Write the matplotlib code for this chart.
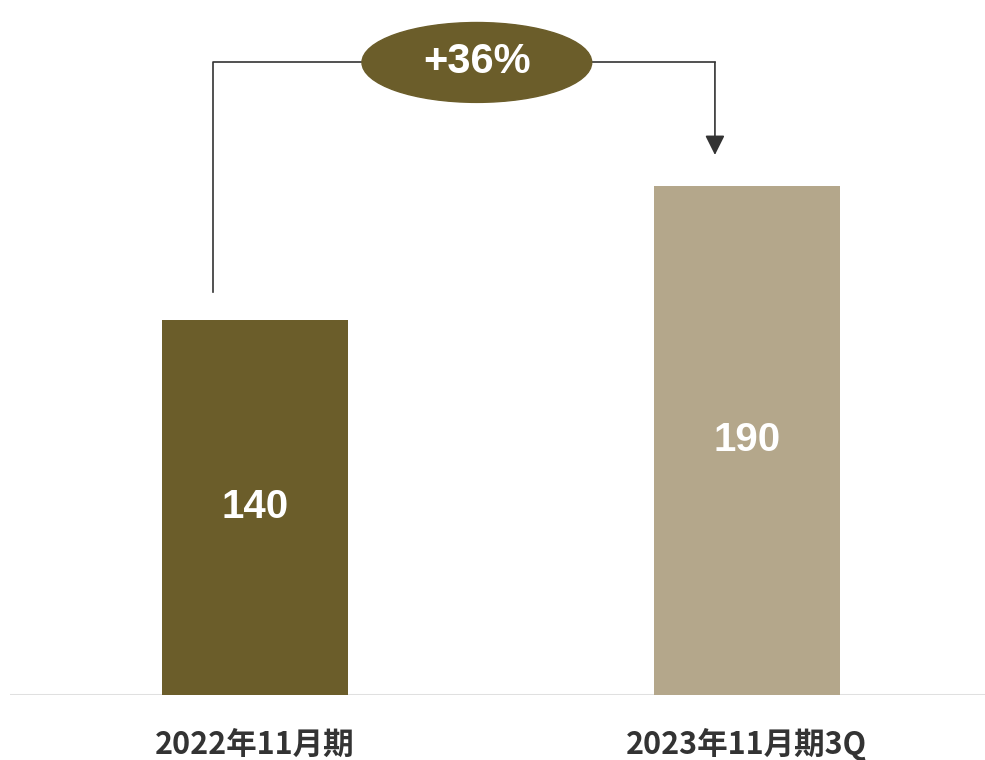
import matplotlib
matplotlib.use("Agg")
import matplotlib.pyplot as plt
from matplotlib.patches import Ellipse

# chart data
categories = ["2022年11月期", "2023年11月期3Q"]
values = [140, 190]
colors = ["#6b5d2a", "#b4a78b"]
growth_label = "+36%"

plt.rcParams['font.family'] = ['Noto Sans CJK JP', 'DejaVu Sans']

fig = plt.figure(figsize=(9.85, 7.6), dpi=100)
# axes spans the baseline from x=10px to right edge, bottom at y=695px
ax = fig.add_axes([10 / 985, 65 / 760, 975 / 985, 695 / 760])

x = list(range(len(categories)))
ax.bar(x, values, width=0.378, color=colors, zorder=2)
ax.set_xlim(-0.498, 1.484)
ax.set_ylim(0, 259.3)

# value labels inside bars
for xi, v in zip(x, values):
    ax.text(xi, v / 2, str(v), ha='center', va='center', color='white',
            fontsize=29, fontweight='bold', family=['Liberation Sans'])

# category labels below baseline
for xi, c in zip(x, categories):
    ax.text(xi, -18.5, c, ha='center', va='center', color='#333333',
            fontsize=22, fontweight='bold', clip_on=False)

# baseline
ax.axhline(0, color='#e0e0e0', lw=2.2, zorder=1)

# growth connector
top = max(values) + 46
left_x = x[0] - 0.085
right_x = x[1] - 0.065
ax.plot([left_x, left_x, right_x], [values[0] + 10.5, top, top],
        color='#333333', lw=1.2, zorder=3)
ax.annotate('', xy=(right_x, values[1] + 11.5), xytext=(right_x, top),
            arrowprops=dict(arrowstyle='-|>', color='#333333', lw=1.2,
                            mutation_scale=30, shrinkA=0, shrinkB=0),
            zorder=3)
mid_x = 0.451
ax.add_patch(Ellipse((mid_x, top), 0.467, 29.8, color=colors[0], zorder=4))
ax.text(mid_x, top, growth_label, ha='center', va='center', color='white',
        fontsize=30, fontweight='bold', family=['Liberation Sans'], zorder=5)

ax.axis('off')
fig.savefig("out.png", dpi=100)
